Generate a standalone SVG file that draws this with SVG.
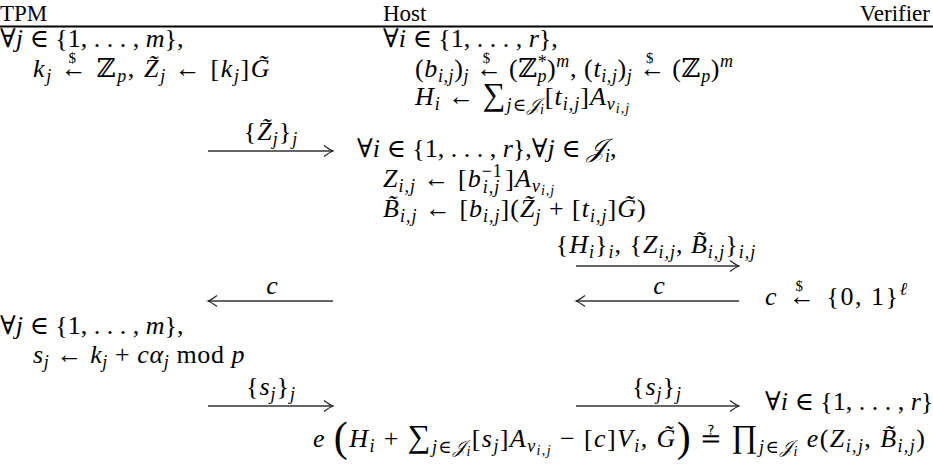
<svg xmlns="http://www.w3.org/2000/svg" width="933" height="468" viewBox="0 0 933 468">
<style>
text{font-family:"Liberation Serif","DejaVu Serif",serif;font-size:26px;fill:#000}
.hd{font-size:23px}
.m{letter-spacing:1px}
.i{font-style:italic}
.s{font-size:18px}
.ss{font-size:14px}
.d{font-size:15px}
.big{font-size:32px}
.par{font-size:42px}
.arr{stroke:#333;stroke-width:1.4;fill:none}
</style>
<defs>
<marker id="h" viewBox="-10 -6 12 12" markerWidth="12" markerHeight="12" refX="0" refY="0" orient="auto-start-reverse" markerUnits="userSpaceOnUse">
<path d="M-9,-5.5 Q-3,-1 0,0 Q-3,1 -9,5.5" stroke="#222" stroke-width="1.2" fill="none"/>
</marker>
</defs>
<g id="header">
<text class="hd" x="0" y="21">TPM</text>
<text class="hd" x="383" y="21">Host</text>
<text class="hd" x="930" y="21" text-anchor="end">Verifier</text>
<line x1="0" y1="26.5" x2="933" y2="26.5" stroke="#000" stroke-width="2"/>
</g>
<g id="tpm">
<text x="0" y="47">∀<tspan class="i">j</tspan> ∈ {1, . . . , <tspan class="i">m</tspan>},</text>
<text x="33" y="77" style="letter-spacing:1.6px"><tspan class="i">k</tspan><tspan class="s i" dy="5">j</tspan><tspan dy="-5"> ←</tspan><tspan class="d" dx="-20" dy="-14">$</tspan><tspan dx="11" dy="14"> ℤ</tspan><tspan class="s i" dy="5">p</tspan><tspan dy="-5">, </tspan><tspan class="i">Z̃</tspan><tspan class="s i" dy="5">j</tspan><tspan dy="-5"> ← [</tspan><tspan class="i">k</tspan><tspan class="s i" dy="5">j</tspan><tspan dy="-5">]</tspan><tspan class="i">G̃</tspan></text>
<text x="0" y="334">∀<tspan class="i">j</tspan> ∈ {1, . . . , <tspan class="i">m</tspan>},</text>
<text x="33" y="363" style="letter-spacing:0.6px"><tspan class="i">s</tspan><tspan class="s i" dy="5">j</tspan><tspan dy="-5"> ← </tspan><tspan class="i">k</tspan><tspan class="s i" dy="5">j</tspan><tspan dy="-5"> + </tspan><tspan class="i">cα</tspan><tspan class="s i" dy="5">j</tspan><tspan dy="-5"> mod </tspan><tspan class="i">p</tspan></text>
</g>
<g id="host">
<text x="383" y="47">∀<tspan class="i">i</tspan> ∈ {1, . . . , <tspan class="i">r</tspan>},</text>
<text x="415" y="77" style="letter-spacing:0.6px">(<tspan class="i">b</tspan><tspan class="s i" dy="5">i,j</tspan><tspan dy="-5">)</tspan><tspan class="s i" dy="5">j</tspan><tspan dy="-5"> ←</tspan><tspan class="d" dx="-20" dy="-14">$</tspan><tspan dx="11" dy="14"> (ℤ</tspan><tspan class="s" dy="-9">*</tspan><tspan class="s i" dx="-10" dy="14">p</tspan><tspan dy="-5">)</tspan><tspan class="s i" dy="-10">m</tspan><tspan dy="10">, (</tspan><tspan class="i">t</tspan><tspan class="s i" dy="5">i,j</tspan><tspan dy="-5">)</tspan><tspan class="s i" dy="5">j</tspan><tspan dy="-5"> ←</tspan><tspan class="d" dx="-20" dy="-14">$</tspan><tspan dx="11" dy="14"> (ℤ</tspan><tspan class="s i" dy="5">p</tspan><tspan dy="-5">)</tspan><tspan class="s i" dy="-10">m</tspan></text>
<text class="m" x="415" y="105"><tspan class="i">H</tspan><tspan class="s i" dy="5">i</tspan><tspan dy="-5"> ← </tspan><tspan class="big">∑</tspan><tspan class="s i" dy="6">j</tspan><tspan class="s">∈</tspan><tspan class="s i">𝒥</tspan><tspan class="ss i" dy="3">i</tspan><tspan dy="-9">[</tspan><tspan class="i">t</tspan><tspan class="s i" dy="5">i,j</tspan><tspan dy="-5">]</tspan><tspan class="i">A</tspan><tspan class="s i" dy="5">v</tspan><tspan class="ss i" dy="3">i,j</tspan></text>
<text x="357" y="157">∀<tspan class="i">i</tspan> ∈ {1, . . . , <tspan class="i">r</tspan>},∀<tspan class="i">j</tspan> ∈ <tspan class="i">𝒥</tspan><tspan class="s i" dy="5">i</tspan><tspan dy="-5">,</tspan></text>
<text class="m" x="383" y="187"><tspan class="i">Z</tspan><tspan class="s i" dy="5">i,j</tspan><tspan dy="-5"> ← [</tspan><tspan class="i">b</tspan><tspan class="s" dy="-10">−1</tspan><tspan class="s i" dx="-20" dy="16">i,j</tspan><tspan dx="5" dy="-6">]</tspan><tspan class="i">A</tspan><tspan class="s i" dy="5">v</tspan><tspan class="ss i" dy="3">i,j</tspan></text>
<text class="m" x="383" y="217"><tspan class="i">B̃</tspan><tspan class="s i" dy="5">i,j</tspan><tspan dy="-5"> ← [</tspan><tspan class="i">b</tspan><tspan class="s i" dy="5">i,j</tspan><tspan dy="-5">](</tspan><tspan class="i">Z̃</tspan><tspan class="s i" dy="5">j</tspan><tspan dy="-5"> + [</tspan><tspan class="i">t</tspan><tspan class="s i" dy="5">i,j</tspan><tspan dy="-5">]</tspan><tspan class="i">G̃</tspan><tspan>)</tspan></text>
</g>
<g id="verifier">
<text x="765" y="305" style="letter-spacing:1.5px"><tspan class="i">c</tspan><tspan dx="3"> ←</tspan><tspan class="d" dx="-21" dy="-14">$</tspan><tspan dx="14" dy="14"> {0, 1}</tspan><tspan class="s i" dy="-10">ℓ</tspan></text>
<text x="765" y="410">∀<tspan class="i">i</tspan> ∈ {1, . . . , <tspan class="i">r</tspan>}</text>
<text x="313" y="447" style="letter-spacing:1.4px"><tspan class="i">e</tspan><tspan> </tspan><tspan class="par" dy="4">(</tspan><tspan class="i" dy="-4">H</tspan><tspan class="s i" dy="5">i</tspan><tspan dy="-5"> + </tspan><tspan class="big">∑</tspan><tspan class="s i" dy="6">j</tspan><tspan class="s">∈</tspan><tspan class="s i">𝒥</tspan><tspan class="ss i" dy="3">i</tspan><tspan dy="-9">[</tspan><tspan class="i">s</tspan><tspan class="s i" dy="5">j</tspan><tspan dy="-5">]</tspan><tspan class="i">A</tspan><tspan class="s i" dy="5">v</tspan><tspan class="ss i" dy="3">i,j</tspan><tspan dy="-8"> − [</tspan><tspan class="i">c</tspan><tspan>]</tspan><tspan class="i">V</tspan><tspan class="s i" dy="5">i</tspan><tspan dy="-5">, </tspan><tspan class="i">G̃</tspan><tspan class="par" dy="4">)</tspan><tspan dy="-4"> ≟ </tspan><tspan class="big">∏</tspan><tspan class="s i" dy="6">j</tspan><tspan class="s">∈</tspan><tspan class="s i">𝒥</tspan><tspan class="ss i" dy="3">i</tspan><tspan class="i" dy="-9"> e</tspan><tspan>(</tspan><tspan class="i">Z</tspan><tspan class="s i" dy="5">i,j</tspan><tspan dy="-5">, </tspan><tspan class="i">B̃</tspan><tspan class="s i" dy="5">i,j</tspan><tspan dy="-5">)</tspan></text>
</g>
<g id="connectors">
<line class="arr" x1="208" y1="151" x2="333" y2="151" marker-end="url(#h)"/>
<text class="m" x="271" y="140" text-anchor="middle">{<tspan class="i">Z̃</tspan><tspan class="s i" dy="5">j</tspan><tspan dy="-5">}</tspan><tspan class="s i" dy="5">j</tspan></text>
<line class="arr" x1="576" y1="266" x2="739" y2="266" marker-end="url(#h)"/>
<text class="m" x="656" y="253" text-anchor="middle">{<tspan class="i">H</tspan><tspan class="s i" dy="5">i</tspan><tspan dy="-5">}</tspan><tspan class="s i" dy="5">i</tspan><tspan dy="-5">, {</tspan><tspan class="i">Z</tspan><tspan class="s i" dy="5">i,j</tspan><tspan dy="-5">, </tspan><tspan class="i">B̃</tspan><tspan class="s i" dy="5">i,j</tspan><tspan dy="-5">}</tspan><tspan class="s i" dy="5">i,j</tspan></text>
<line class="arr" x1="208" y1="301" x2="333" y2="301" marker-start="url(#h)"/>
<text x="272" y="294" text-anchor="middle" class="i">c</text>
<line class="arr" x1="576" y1="301" x2="739" y2="301" marker-start="url(#h)"/>
<text x="659" y="294" text-anchor="middle" class="i">c</text>
<line class="arr" x1="208" y1="406" x2="333" y2="406" marker-end="url(#h)"/>
<text class="m" x="271" y="395" text-anchor="middle">{<tspan class="i">s</tspan><tspan class="s i" dy="5">j</tspan><tspan dy="-5">}</tspan><tspan class="s i" dy="5">j</tspan></text>
<line class="arr" x1="576" y1="406" x2="739" y2="406" marker-end="url(#h)"/>
<text class="m" x="657" y="395" text-anchor="middle">{<tspan class="i">s</tspan><tspan class="s i" dy="5">j</tspan><tspan dy="-5">}</tspan><tspan class="s i" dy="5">j</tspan></text>
</g>
</svg>
